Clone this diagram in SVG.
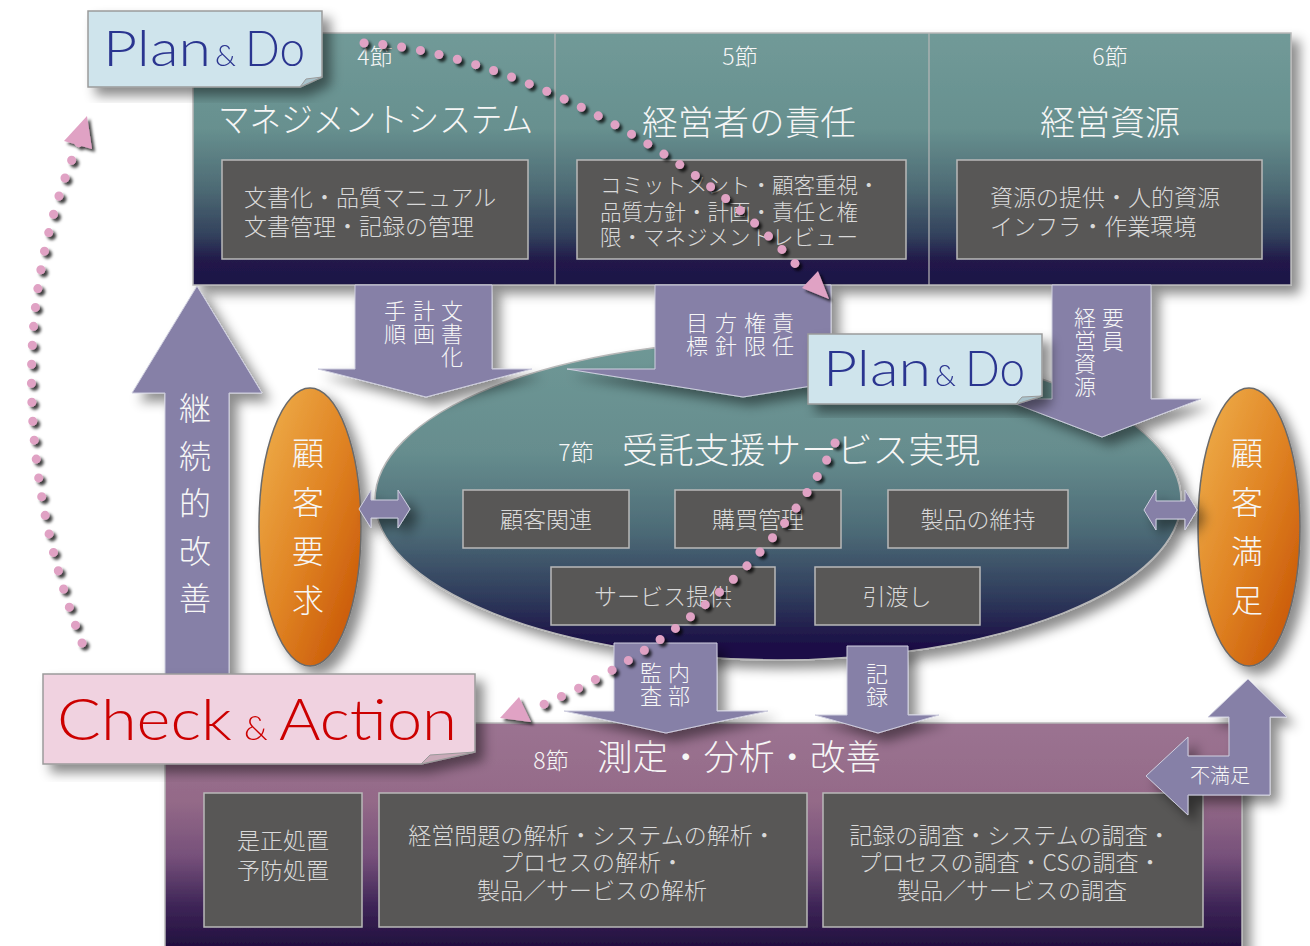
<svg xmlns="http://www.w3.org/2000/svg" width="1310" height="946" viewBox="0 0 1310 946">
<defs>
<linearGradient id="gTop" gradientUnits="userSpaceOnUse" x1="0" y1="33" x2="0" y2="285">
<stop offset="0" stop-color="#719a98"/><stop offset="0.38" stop-color="#67908f"/><stop offset="0.62" stop-color="#4d6a74"/><stop offset="0.8" stop-color="#33425d"/><stop offset="0.9" stop-color="#211a4a"/><stop offset="1" stop-color="#1d1245"/>
</linearGradient>
<linearGradient id="gEll" x1="0" y1="0" x2="0" y2="1">
<stop offset="0" stop-color="#6f9896"/><stop offset="0.35" stop-color="#668d8e"/><stop offset="0.6" stop-color="#4c6a76"/><stop offset="0.8" stop-color="#2f3c5c"/><stop offset="0.95" stop-color="#1c1046"/><stop offset="1" stop-color="#1c1046"/>
</linearGradient>
<linearGradient id="gBot" gradientUnits="userSpaceOnUse" x1="0" y1="723" x2="0" y2="946">
<stop offset="0" stop-color="#9b7391"/><stop offset="0.35" stop-color="#946a88"/><stop offset="0.6" stop-color="#76507a"/><stop offset="0.82" stop-color="#3e2557"/><stop offset="1" stop-color="#22103f"/>
</linearGradient>
<linearGradient id="gOr" x1="0" y1="0" x2="1" y2="1">
<stop offset="0" stop-color="#f0b24e"/><stop offset="0.5" stop-color="#e08424"/><stop offset="1" stop-color="#c44e00"/>
</linearGradient>
<filter id="sh" x="-20%" y="-20%" width="140%" height="140%">
<feDropShadow dx="8" dy="8" stdDeviation="6" flood-color="#000" flood-opacity="0.45"/>
</filter>
<filter id="shd" x="-20%" y="-20%" width="140%" height="140%">
<feDropShadow dx="3" dy="3" stdDeviation="1.5" flood-color="#000" flood-opacity="0.75"/>
</filter>
<style>
.jp{font-family:"Noto Sans CJK JP","Noto Sans CJK SC",sans-serif;font-weight:300}
.wt{fill:#f6f6f6}
.lt{fill:#d9d9d9}
.box{fill:#585756;stroke:#b9b9b9;stroke-width:1.5}
.arr{fill:#8680a7;stroke:#cfcfdf;stroke-width:1}
.dot{fill:none;stroke:#e0a2c4;stroke-width:9;stroke-linecap:round;stroke-dasharray:0 19}
.head{fill:#e0a2c4}
.sec{font-size:23px}
.ttl{font-size:34px}
.bx{font-size:23px}
.vc{writing-mode:vertical-rl;font-size:22px;letter-spacing:1px}
.vb{writing-mode:vertical-rl;font-size:32px}
.en{font-family:Lato,"Open Sans",sans-serif;font-weight:300}
</style>
</defs>

<!-- top block -->
<g id="top-block" filter="url(#sh)">
<rect x="193" y="33" width="1098" height="252" fill="url(#gTop)" stroke="#b8b8b8" stroke-width="1.5"/>
<line x1="555" y1="33" x2="555" y2="285" stroke="#b8b8b8" stroke-width="1.2"/>
<line x1="929" y1="33" x2="929" y2="285" stroke="#b8b8b8" stroke-width="1.2"/>
</g>
<g id="sec4">
<text class="jp wt sec" x="375" y="65" text-anchor="middle">4節</text>
<text class="jp wt ttl" x="218" y="132" textLength="315" lengthAdjust="spacingAndGlyphs">マネジメントシステム</text>
<rect class="box" x="222" y="160" width="306" height="99"/>
<text class="jp lt bx"><tspan x="244" y="206">文書化・品質マニュアル</tspan><tspan x="244" y="235">文書管理・記録の管理</tspan></text>
</g>
<g id="sec5">
<text class="jp wt sec" x="740" y="65" text-anchor="middle">5節</text>
<text class="jp wt ttl" x="642" y="135" textLength="214" lengthAdjust="spacingAndGlyphs">経営者の責任</text>
<rect class="box" x="577" y="160" width="329" height="99"/>
<text class="jp lt" font-size="21.5"><tspan x="600" y="193">コミットメント・顧客重視・</tspan><tspan x="600" y="220">品質方針・計画・責任と権</tspan><tspan x="600" y="245">限・マネジメントレビュー</tspan></text>
</g>
<g id="sec6">
<text class="jp wt sec" x="1110" y="65" text-anchor="middle">6節</text>
<text class="jp wt ttl" x="1040" y="135" textLength="140" lengthAdjust="spacingAndGlyphs">経営資源</text>
<rect class="box" x="957" y="160" width="305" height="99"/>
<text class="jp lt bx"><tspan x="990" y="206">資源の提供・人的資源</tspan><tspan x="990" y="235">インフラ・作業環境</tspan></text>
</g>

<!-- realization ellipse -->
<g id="sec7">
<ellipse cx="778" cy="500" rx="403" ry="160" fill="url(#gEll)" stroke="#b8b8b8" stroke-width="1.5" filter="url(#sh)"/>
<text class="jp wt sec" x="576" y="461" text-anchor="middle">7節</text>
<text class="jp wt" font-size="35" x="622" y="463" textLength="358" lengthAdjust="spacingAndGlyphs">受託支援サービス実現</text>
<rect class="box" x="463" y="490" width="166" height="58"/>
<text class="jp lt bx" x="546" y="528" text-anchor="middle">顧客関連</text>
<rect class="box" x="675" y="490" width="166" height="58"/>
<text class="jp lt bx" x="758" y="528" text-anchor="middle">購買管理</text>
<rect class="box" x="888" y="490" width="180" height="58"/>
<text class="jp lt bx" x="978" y="528" text-anchor="middle">製品の維持</text>
<rect class="box" x="551" y="567" width="224" height="58"/>
<text class="jp lt bx" x="663" y="605" text-anchor="middle">サービス提供</text>
<rect class="box" x="815" y="567" width="165" height="58"/>
<text class="jp lt bx" x="897" y="605" text-anchor="middle">引渡し</text>
</g>

<!-- customer ellipses -->
<g id="customer-req">
<ellipse cx="310" cy="527" rx="51" ry="139" fill="url(#gOr)" stroke="#6a6a6a" stroke-width="1.5" filter="url(#sh)"/>
<text class="jp wt vb" x="308" y="437" letter-spacing="17">顧客要求</text>
</g>
<g id="customer-sat">
<ellipse cx="1249" cy="527" rx="51" ry="139" fill="url(#gOr)" stroke="#6a6a6a" stroke-width="1.5" filter="url(#sh)"/>
<text class="jp wt vb" x="1247" y="437" letter-spacing="17">顧客満足</text>
</g>

<!-- bottom block -->
<g id="sec8">
<rect x="165" y="723" width="1077" height="240" fill="url(#gBot)" stroke="#b8b8b8" stroke-width="1.5" filter="url(#sh)"/>
<text class="jp wt sec" x="551" y="769" text-anchor="middle">8節</text>
<text class="jp wt" font-size="35" x="597" y="770" textLength="284" lengthAdjust="spacingAndGlyphs">測定・分析・改善</text>
<rect class="box" x="204" y="793" width="158" height="134"/>
<text class="jp lt bx" text-anchor="middle"><tspan x="283" y="849">是正処置</tspan><tspan x="283" y="879">予防処置</tspan></text>
<rect class="box" x="379" y="793" width="428" height="134"/>
<text class="jp lt bx" text-anchor="middle"><tspan x="592" y="844">経営問題の解析・システムの解析・</tspan><tspan x="592" y="871">プロセスの解析・</tspan><tspan x="592" y="899">製品／サービスの解析</tspan></text>
<rect class="box" x="823" y="793" width="380" height="134"/>
<text class="jp lt bx" text-anchor="middle"><tspan x="1010" y="844">記録の調査・システムの調査・</tspan><tspan x="1010" y="871">プロセスの調査・CSの調査・</tspan><tspan x="1012" y="899">製品／サービスの調査</tspan></text>
</g>

<!-- connectors -->
<g id="connectors">
<g filter="url(#sh)">
<polygon class="arr" points="355,285 492,285 492,369 532,369 426,397 318,369 355,369"/>
<polygon class="arr" points="655,285 831,285 831,369 917,369 743,397 567,369 655,369"/>
<polygon class="arr" points="1052,285 1151,285 1151,399 1201,399 1102,437 1003,399 1052,399"/>
<polygon class="arr" points="165,723 165,393 132,393 197,286 262,393 229,393 229,723"/>
<polygon class="arr" points="614,643 717,643 717,711 768,711 666,733 564,711 614,711"/>
<polygon class="arr" points="847,646 908,646 908,715 939,715 878,733 815,715 847,715"/>
<polygon class="arr" points="359,509 371,490 371,500 398,500 398,490 410,509 398,528 398,518 371,518 371,528"/>
<polygon class="arr" points="1144,510 1156,490 1156,501 1185,501 1185,490 1197,510 1185,530 1185,519 1156,519 1156,530"/>
<polygon class="arr" points="1146,776 1188,737 1188,756 1229,756 1229,717 1208,717 1248,679 1287,717 1270,717 1270,795 1188,795 1188,815"/>
</g>
<g class="jp wt">
<text class="vc" x="452" y="300">文書化</text>
<text class="vc" x="424" y="300">計画</text>
<text class="vc" x="395" y="300">手順</text>
<text class="vc" x="783" y="312" letter-spacing="2">責任</text>
<text class="vc" x="755" y="312" letter-spacing="2">権限</text>
<text class="vc" x="726" y="312" letter-spacing="2">方針</text>
<text class="vc" x="697" y="312" letter-spacing="2">目標</text>
<text class="vc" x="1113" y="307">要員</text>
<text class="vc" x="1085" y="307">経営資源</text>
<text class="vc" x="679" y="662">内部</text>
<text class="vc" x="651" y="662">監査</text>
<text class="vc" x="877" y="663">記録</text>
<text x="1220" y="783" font-size="20" text-anchor="middle">不満足</text>
<text class="vb" x="195" y="392" letter-spacing="15.5">継続的改善</text>
</g>
<g filter="url(#shd)">
<path class="dot" d="M82,643 C20,480 10,300 80,140"/>
<polygon class="head" points="87,116 64,141 92,149"/>
<path class="dot" d="M364,43 C500,50 700,150 805,275"/>
<polygon class="head" points="829,299 802,288 818,271"/>
<path class="dot" d="M835,443 C800,520 700,640 535,708"/>
<polygon class="head" points="500,718 519,697 531,722"/>
</g>
</g>

<!-- notes -->
<g id="note-plan1" filter="url(#sh)">
<polygon points="88,11 322,11 322,77 300,87 88,87" fill="#cfe4ec" stroke="#9a9a9a" stroke-width="1.5"/>
<polygon points="300,87 306,79 322,77" fill="#a9c3cc" stroke="#9a9a9a" stroke-width="1"/>
<text class="en" x="103" y="66" font-size="50" fill="#2c3590" textLength="108" lengthAdjust="spacingAndGlyphs">Plan</text>
<text class="en" x="215" y="66" font-size="30" fill="#2c3590">&amp;</text>
<text class="en" x="245" y="66" font-size="50" fill="#2c3590" textLength="60" lengthAdjust="spacingAndGlyphs">Do</text>
</g>
<g id="note-plan2" filter="url(#sh)">
<polygon points="808,334 1042,334 1042,396 1016,404 808,404" fill="#cfe4ec" stroke="#9a9a9a" stroke-width="1.5"/>
<polygon points="1016,404 1022,397 1042,396" fill="#a9c3cc" stroke="#9a9a9a" stroke-width="1"/>
<text class="en" x="823" y="386" font-size="50" fill="#2c3590" textLength="108" lengthAdjust="spacingAndGlyphs">Plan</text>
<text class="en" x="935" y="386" font-size="30" fill="#2c3590">&amp;</text>
<text class="en" x="965" y="386" font-size="50" fill="#2c3590" textLength="60" lengthAdjust="spacingAndGlyphs">Do</text>
</g>
<g id="note-check" filter="url(#sh)">
<polygon points="43,674 475,674 475,752 421,764 43,764" fill="#f0d2e0" stroke="#9a9a9a" stroke-width="1.5"/>
<polygon points="421,764 430,755 475,752" fill="#c9aab8" stroke="#9a9a9a" stroke-width="1"/>
<text class="en" x="57" y="740" font-size="58" fill="#cc0000" textLength="175" lengthAdjust="spacingAndGlyphs">Check</text>
<text class="en" x="244" y="740" font-size="34" fill="#cc0000">&amp;</text>
<text class="en" x="279" y="740" font-size="58" fill="#cc0000" textLength="178" lengthAdjust="spacingAndGlyphs">Action</text>
</g>
</svg>
